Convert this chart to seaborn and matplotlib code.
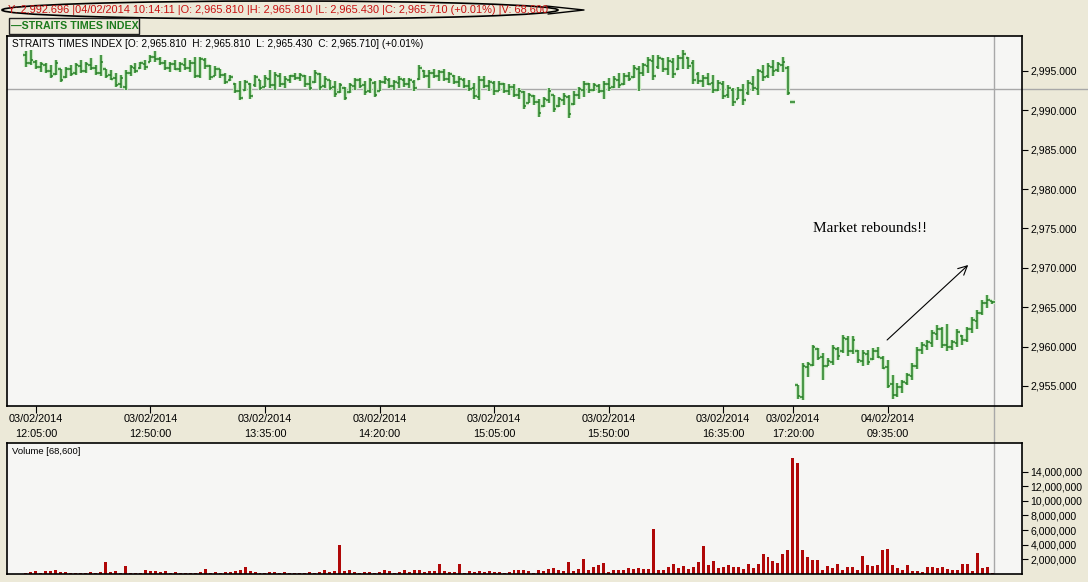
import matplotlib
matplotlib.use("Agg")
import matplotlib.pyplot as plt
import seaborn as sns
from matplotlib.patches import Rectangle, Ellipse
from matplotlib.lines import Line2D

# OHLC of the Straits Times Index, one bar per slot (03/02 then 04/02)
bar_high = [
    2997.5, 2997.6, 2996.4, 2996.2, 2996.0, 2995.8, 2996.4, 2995.3, 2995.5, 2995.8,
    2996.0, 2996.4, 2996.2, 2996.6, 2995.8, 2997.0, 2995.3, 2995.1, 2994.7, 2994.5,
    2995.1, 2995.8, 2996.0, 2996.2, 2996.4, 2997.0, 2997.5, 2996.8, 2996.4, 2996.2,
    2996.4, 2996.2, 2996.6, 2996.4, 2996.8, 2996.8, 2996.6, 2995.8, 2995.6, 2995.3,
    2994.7, 2994.5, 2993.5, 2993.7, 2993.9, 2993.5, 2994.5, 2993.9, 2994.5, 2995.1,
    2994.9, 2994.7, 2994.3, 2994.5, 2994.7, 2994.7, 2994.5, 2994.3, 2995.1, 2994.7,
    2994.3, 2993.9, 2993.7, 2993.5, 2993.0, 2993.5, 2994.1, 2994.1, 2993.7, 2994.1,
    2993.7, 2993.9, 2994.3, 2994.1, 2993.9, 2994.3, 2994.1, 2994.1, 2993.9, 2995.8,
    2995.1, 2995.1, 2995.3, 2995.1, 2995.3, 2994.9, 2994.5, 2994.3, 2994.1, 2993.9,
    2993.5, 2994.3, 2994.3, 2993.9, 2993.7, 2993.7, 2993.5, 2993.3, 2993.3, 2992.8,
    2992.4, 2992.2, 2992.0, 2991.5, 2991.7, 2992.8, 2992.0, 2991.7, 2992.2, 2992.0,
    2992.4, 2993.0, 2993.7, 2993.5, 2993.5, 2993.3, 2993.7, 2994.1, 2994.3, 2994.7,
    2994.7, 2994.9, 2995.8, 2995.6, 2996.0, 2996.8, 2997.0, 2997.0, 2996.6, 2996.8,
    2996.6, 2997.0, 2997.7, 2996.8, 2996.4, 2994.9, 2994.5, 2994.7, 2994.5, 2993.9,
    2993.7, 2993.2, 2992.8, 2993.0, 2993.4, 2993.9, 2994.3, 2995.3, 2995.8, 2996.0,
    2996.4, 2996.2, 2996.8, 2995.6, 2991.0, 2955.1, 2957.9, 2958.1, 2960.2, 2959.8,
    2959.2, 2958.5, 2960.2, 2960.0, 2961.5, 2961.3, 2961.3, 2959.6, 2959.6, 2959.6,
    2959.8, 2960.0, 2958.8, 2958.3, 2956.4, 2955.4, 2955.8, 2956.7, 2957.9, 2960.0,
    2960.6, 2960.9, 2962.1, 2962.8, 2962.5, 2962.9, 2960.9, 2962.3, 2961.5, 2962.5,
    2963.8, 2964.6, 2965.9, 2966.5, 2965.81,
]
bar_low = [
    2995.5, 2995.8, 2995.3, 2994.9, 2994.7, 2994.1, 2994.5, 2993.6, 2994.1, 2994.3,
    2994.5, 2994.7, 2994.7, 2995.1, 2994.5, 2994.3, 2994.1, 2993.9, 2993.0, 2992.8,
    2992.6, 2994.3, 2994.7, 2995.3, 2995.1, 2996.1, 2996.2, 2995.8, 2995.1, 2994.9,
    2995.1, 2994.9, 2995.1, 2994.9, 2994.1, 2994.1, 2995.3, 2993.9, 2994.3, 2994.1,
    2993.3, 2993.7, 2992.2, 2991.3, 2992.4, 2991.5, 2993.0, 2992.6, 2993.0, 2992.8,
    2992.6, 2993.0, 2992.8, 2993.5, 2993.9, 2993.7, 2993.0, 2992.6, 2993.5, 2992.6,
    2992.8, 2992.6, 2991.7, 2992.2, 2991.3, 2992.2, 2992.6, 2992.8, 2992.0, 2992.2,
    2991.7, 2992.4, 2993.3, 2992.8, 2992.6, 2992.8, 2993.0, 2992.8, 2992.4, 2993.9,
    2994.1, 2992.8, 2994.1, 2993.7, 2993.7, 2993.5, 2993.3, 2993.0, 2992.8, 2992.4,
    2991.5, 2991.3, 2992.8, 2992.4, 2992.0, 2992.4, 2992.2, 2992.0, 2991.7, 2991.5,
    2990.2, 2990.9, 2990.7, 2989.2, 2990.4, 2990.9, 2989.8, 2990.4, 2990.7, 2989.0,
    2990.7, 2991.5, 2991.7, 2992.2, 2992.4, 2992.2, 2991.5, 2992.4, 2992.8, 2992.8,
    2993.2, 2993.7, 2994.1, 2992.4, 2994.3, 2994.7, 2993.9, 2995.3, 2994.9, 2994.5,
    2994.1, 2995.1, 2995.3, 2995.3, 2993.4, 2993.4, 2993.0, 2993.2, 2992.2, 2992.4,
    2991.4, 2991.6, 2990.5, 2991.4, 2990.7, 2992.0, 2992.4, 2992.0, 2993.7, 2994.1,
    2994.3, 2994.9, 2994.9, 2992.0, 2991.0, 2953.4, 2953.2, 2956.2, 2957.5, 2958.3,
    2955.8, 2957.5, 2957.7, 2958.3, 2959.2, 2958.8, 2959.0, 2957.9, 2957.5, 2957.7,
    2958.3, 2958.5, 2957.1, 2954.7, 2953.4, 2953.6, 2954.1, 2955.1, 2955.8, 2957.1,
    2959.0, 2959.6, 2960.0, 2960.9, 2959.8, 2959.4, 2959.6, 2960.0, 2960.2, 2960.6,
    2961.7, 2962.3, 2964.0, 2964.9, 2965.43,
]
bar_open = [
    2997.0, 2996.0, 2996.2, 2995.5, 2995.8, 2995.0, 2994.6, 2995.2, 2994.2, 2995.2,
    2994.7, 2995.6, 2995.0, 2995.8, 2995.4, 2994.8, 2995.2, 2994.5, 2994.1, 2993.3,
    2993.0, 2994.7, 2995.4, 2995.4, 2995.9, 2996.2, 2996.8, 2996.5, 2996.0, 2995.4,
    2995.9, 2995.3, 2995.8, 2995.4, 2996.0, 2994.4, 2996.4, 2995.6, 2994.4, 2995.2,
    2994.5, 2993.8, 2993.4, 2992.5, 2992.6, 2993.3, 2993.2, 2993.8, 2993.0, 2994.0,
    2993.2, 2994.4, 2993.3, 2993.9, 2994.3, 2994.1, 2994.4, 2993.3, 2993.6, 2994.6,
    2993.1, 2993.9, 2993.0, 2992.3, 2992.9, 2992.3, 2993.1, 2993.8, 2993.2, 2992.4,
    2993.5, 2992.5, 2993.6, 2993.9, 2993.1, 2993.5, 2993.9, 2993.3, 2993.6, 2994.0,
    2995.0, 2994.4, 2994.8, 2994.3, 2994.9, 2994.0, 2994.4, 2993.6, 2993.9, 2993.1,
    2992.8, 2991.7, 2993.9, 2993.1, 2993.5, 2992.5, 2993.3, 2992.5, 2993.0, 2992.0,
    2992.3, 2990.9, 2991.8, 2991.0, 2990.5, 2991.3, 2991.9, 2990.5, 2991.3, 2991.7,
    2990.8, 2991.9, 2992.6, 2993.3, 2992.6, 2993.1, 2992.4, 2993.4, 2993.0, 2993.8,
    2993.3, 2994.4, 2994.2, 2995.3, 2994.8, 2995.6, 2996.3, 2995.5, 2996.5, 2995.3,
    2996.2, 2995.2, 2996.6, 2996.7, 2996.0, 2994.6, 2993.7, 2994.1, 2993.5, 2992.6,
    2993.4, 2991.9, 2992.6, 2991.5, 2992.6, 2992.2, 2993.4, 2992.7, 2994.9, 2994.3,
    2995.5, 2995.1, 2995.8, 2995.4, 2991.0, 2955.1, 2953.6, 2957.4, 2957.7, 2959.7,
    2958.7, 2957.6, 2958.1, 2959.7, 2959.4, 2961.0, 2959.5, 2959.4, 2958.2, 2959.1,
    2958.4, 2959.4, 2958.6, 2957.4, 2955.2, 2953.8, 2954.9, 2955.4, 2956.3, 2957.5,
    2959.6, 2960.1, 2960.5, 2961.6, 2962.2, 2960.2, 2960.0, 2960.5, 2961.4, 2960.8,
    2962.2, 2963.3, 2964.3, 2965.5, 2965.81,
]
bar_close = [
    2996.0, 2996.4, 2995.5, 2995.9, 2995.0, 2994.4, 2996.0, 2993.9, 2995.2, 2994.6,
    2995.7, 2995.0, 2995.9, 2995.4, 2994.8, 2996.2, 2994.4, 2994.0, 2993.2, 2994.1,
    2994.8, 2995.5, 2995.0, 2996.0, 2995.5, 2996.8, 2996.5, 2996.0, 2995.4, 2995.9,
    2995.3, 2995.9, 2995.4, 2996.0, 2994.4, 2996.5, 2995.6, 2994.2, 2995.2, 2994.5,
    2993.6, 2994.2, 2992.5, 2991.6, 2993.6, 2991.8, 2994.2, 2992.9, 2994.1, 2993.2,
    2994.5, 2993.3, 2994.0, 2994.3, 2994.1, 2994.5, 2993.3, 2992.9, 2994.8, 2993.0,
    2994.0, 2992.9, 2992.1, 2993.2, 2991.6, 2993.2, 2993.8, 2993.1, 2992.3, 2993.8,
    2992.0, 2993.6, 2994.0, 2993.1, 2993.6, 2994.0, 2993.3, 2993.8, 2992.8, 2995.4,
    2994.4, 2994.8, 2994.3, 2994.9, 2994.0, 2994.6, 2993.6, 2994.0, 2993.1, 2992.7,
    2991.8, 2993.9, 2993.1, 2993.6, 2992.4, 2993.3, 2992.5, 2993.0, 2992.0, 2992.5,
    2990.6, 2991.9, 2991.0, 2989.6, 2991.4, 2992.4, 2990.2, 2991.4, 2991.8, 2989.5,
    2992.0, 2992.7, 2993.4, 2992.6, 2993.2, 2992.5, 2993.4, 2992.8, 2994.0, 2993.2,
    2994.4, 2994.0, 2995.4, 2994.8, 2995.7, 2996.4, 2994.4, 2996.7, 2995.3, 2996.3,
    2994.6, 2996.6, 2997.2, 2995.6, 2993.8, 2993.7, 2994.1, 2993.4, 2992.6, 2993.5,
    2991.8, 2992.8, 2991.0, 2992.6, 2991.3, 2993.5, 2992.9, 2995.0, 2994.2, 2995.6,
    2995.0, 2995.9, 2996.2, 2992.2, 2991.0, 2953.7, 2957.5, 2957.8, 2959.9, 2958.6,
    2957.6, 2958.2, 2959.8, 2958.8, 2961.1, 2959.4, 2960.8, 2958.3, 2959.2, 2958.0,
    2959.5, 2958.7, 2957.3, 2955.0, 2953.8, 2954.9, 2955.5, 2956.4, 2957.6, 2959.6,
    2960.2, 2960.6, 2961.7, 2962.2, 2960.2, 2960.0, 2960.6, 2961.9, 2960.8, 2962.2,
    2963.4, 2964.3, 2965.6, 2965.9, 2965.71,
]
# volume in millions of shares
volume_m = [
    0.15, 0.3, 0.45, 0.2, 0.35, 0.45, 0.5, 0.3, 0.3, 0.2,
    0.2, 0.2, 0.2, 0.3, 0.2, 0.25, 1.7, 0.3, 0.45, 0.2,
    1.1, 0.2, 0.2, 0.2, 0.5, 0.35, 0.45, 0.3, 0.4, 0.2,
    0.3, 0.2, 0.2, 0.15, 0.2, 0.3, 0.7, 0.2, 0.3, 0.2,
    0.3, 0.25, 0.4, 0.6, 1.0, 0.4, 0.3, 0.2, 0.2, 0.25,
    0.3, 0.2, 0.3, 0.2, 0.2, 0.15, 0.2, 0.3, 0.2, 0.3,
    0.5, 0.3, 0.4, 3.9, 0.35, 0.6, 0.3, 0.2, 0.3, 0.3,
    0.2, 0.3, 0.5, 0.4, 0.2, 0.3, 0.5, 0.3, 0.5, 0.5,
    0.3, 0.4, 0.4, 1.3, 0.4, 0.3, 0.3, 1.3, 0.2, 0.45,
    0.3, 0.35, 0.3, 0.45, 0.3, 0.25, 0.2, 0.3, 0.55, 0.55,
    0.5, 0.35, 0.2, 0.6, 0.35, 0.7, 0.8, 0.5, 0.4, 1.7,
    0.4, 0.7, 2.1, 0.6, 0.9, 1.2, 1.5, 0.3, 0.6, 0.5,
    0.6, 0.8, 0.7, 0.8, 0.7, 0.7, 6.2, 0.5, 0.6, 0.9,
    1.4, 0.8, 1.1, 0.7, 1.0, 1.7, 3.8, 1.2, 1.8, 0.8,
    1.0, 1.2, 0.9, 1.0, 0.7, 1.3, 0.8, 1.4, 2.8, 2.3,
    1.8, 1.5, 2.7, 3.3, 15.9, 15.1, 3.3, 2.3, 1.9, 1.9,
    0.55, 1.1, 0.8, 1.4, 0.55, 1.0, 1.0, 0.5, 2.4, 1.2,
    1.1, 1.2, 3.3, 3.4, 1.2, 0.8, 0.6, 1.2, 0.4, 0.4,
    0.3, 1.0, 1.0, 0.8, 0.9, 0.7, 0.5, 0.6, 1.4, 1.3,
    0.4, 2.9, 0.8, 0.9, 0.0686,
]

tick_bars = [2, 25, 48, 71, 94, 117, 140, 154, 173]
tick_labels = ["03/02/2014\n12:05:00", "03/02/2014\n12:50:00", "03/02/2014\n13:35:00",
               "03/02/2014\n14:20:00", "03/02/2014\n15:05:00", "03/02/2014\n15:50:00",
               "03/02/2014\n16:35:00", "03/02/2014\n17:20:00", "04/02/2014\n09:35:00"]
price_ticks = [2955, 2960, 2965, 2970, 2975, 2980, 2985, 2990, 2995]
volume_ticks = [2, 4, 6, 8, 10, 12, 14]
crosshair_y = 2992.696

header = ("Y: 2,992.696 |04/02/2014 10:14:11 |O: 2,965.810 |H: 2,965.810 |L: 2,965.430 "
          "|C: 2,965.710 (+0.01%) |V: 68,600")
inner = "STRAITS TIMES INDEX [O: 2,965.810  H: 2,965.810  L: 2,965.430  C: 2,965.710] (+0.01%)"

green = "#267F26"
halo = "#C6E8C0"
red = "#B00808"
panel_bg = "#F6F6F4"
beige = "#ECE9D8"
grey = "#A8A8A8"

sns.set_style("white")
plt.rcParams['font.family'] = ['Liberation Sans', 'DejaVu Sans']

W, H = 1088, 582
def fx(px):
    return px / W
def fy(py):
    return 1 - py / H

fig = plt.figure(figsize=(10.88, 5.82), dpi=100, facecolor=beige)
ax = fig.add_axes([fx(7), fy(406), fx(1022) - fx(7), fy(36) - fy(406)])
ax_v = fig.add_axes([fx(7), fy(574), fx(1022) - fx(7), fy(443) - fy(574)])

bar_idx = list(range(len(bar_high)))
left_end = [i - 0.5 for i in bar_idx]
right_end = [i + 0.5 for i in bar_idx]

# price bars (OHLC), with a soft halo like the original screenshot
for col, width, z in ((halo, 3.0, 2), (green, 1.1, 3)):
    ax.vlines(bar_idx, bar_low, bar_high, color=col, lw=width, zorder=z)
    ax.hlines(bar_open, left_end, bar_idx, color=col, lw=width, zorder=z)
    ax.hlines(bar_close, bar_idx, right_end, color=col, lw=width, zorder=z)

# volume bars
sns.barplot(x=bar_idx, y=volume_m, native_scale=True, color=red, width=0.6,
            errorbar=None, saturation=1, linewidth=0, ax=ax_v)

for a in (ax, ax_v):
    a.set_facecolor(panel_bg)
    a.set_xlim(-3.8, 200)
    a.set_xlabel("")
    a.set_ylabel("")
    for s in a.spines.values():
        s.set_visible(True)
        s.set_color("black")
        s.set_linewidth(1.2)

ax.set_ylim(2952.46, 2999.44)
ax.set_yticks(price_ticks)
ax.set_yticklabels([f"{t:,.3f}" for t in price_ticks])
ax.tick_params(axis='y', left=False, right=True, labelleft=False, labelright=True,
               direction='out', length=4, width=0.8, pad=2, labelsize=7.6, colors='black')
ax.set_xticks(tick_bars)
ax.set_xticklabels(tick_labels, linespacing=1.55)
ax.tick_params(axis='x', bottom=True, direction='out', length=5, width=0.8, pad=1,
               labelsize=7.8, colors='black')

ax_v.set_ylim(0, 17.9)
ax_v.set_yticks(volume_ticks)
ax_v.set_yticklabels([f"{t * 1000000:,}" for t in volume_ticks])
ax_v.tick_params(axis='y', left=False, right=True, labelleft=False, labelright=True,
                 direction='out', length=4, width=0.8, pad=2, labelsize=7.6, colors='black')
ax_v.tick_params(axis='x', bottom=False, labelbottom=False)

# crosshair
ax.axhline(crosshair_y, xmin=0, xmax=(W - 7) / 1015, clip_on=False, color=grey, lw=1, zorder=1)
ax.axvline(bar_idx[-1] + 0.3, ymin=-0.1, ymax=1, clip_on=False, color=grey, lw=1, zorder=1)
ax_v.axvline(bar_idx[-1] + 0.3, color=grey, lw=1, zorder=1)

# annotation
ax.text(158, 2975.06, "Market rebounds!!", family=['Liberation Serif', 'DejaVu Serif'],
        fontsize=11, va='center', ha='left', color='black')
ax.annotate("", xy=(189.6, 2970.6), xytext=(172.5, 2960.6),
            arrowprops=dict(arrowstyle='->', color='black', lw=0.8, mutation_scale=16))

# header texts
fig.text(fx(8), fy(10), header, color='#C81010', fontsize=7.9, va='center', ha='left')
fig.add_artist(Ellipse((fx(280), fy(10)), fx(556), 18 / H, transform=fig.transFigure,
                       fill=False, ec='black', lw=1.2))
fig.add_artist(Line2D([fx(546), fx(584), fx(548)], [fy(6), fy(10), fy(14)],
                      transform=fig.transFigure, color='black', lw=1))
fig.add_artist(Rectangle((fx(9), fy(34)), fx(139) - fx(9), fy(18) - fy(34),
                         transform=fig.transFigure, fc=beige, ec='#222222', lw=1))
fig.text(fx(11), fy(26), "\u2014STRAITS TIMES INDEX", color='#1C7A1C', fontsize=7.7,
         fontweight='bold', va='center', ha='left')
fig.text(fx(12), fy(44), inner, color='black', fontsize=7.3, va='center', ha='left')
fig.text(fx(12), fy(452), "Volume [68,600]", color='black', fontsize=6.8, va='center', ha='left')

fig.savefig("out.png", dpi=100, facecolor=beige)
